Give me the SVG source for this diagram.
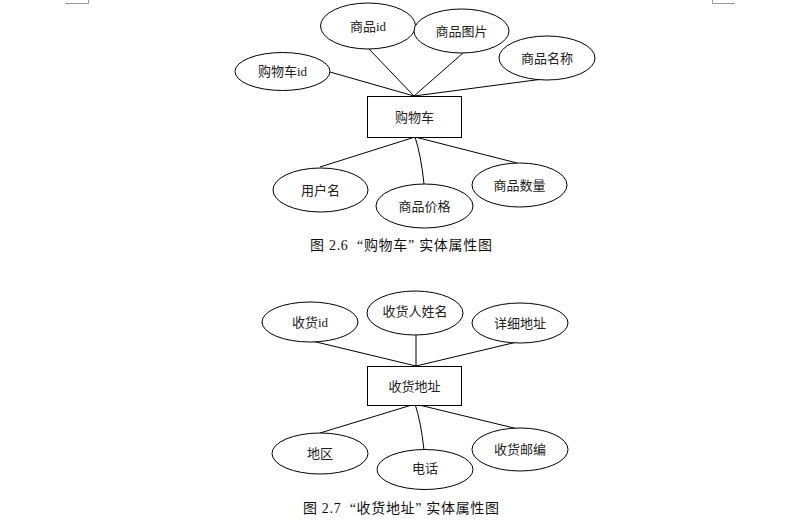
<svg xmlns="http://www.w3.org/2000/svg" width="786" height="523" viewBox="0 0 786 523">
<style>
.e{fill:#fff;stroke:#000;stroke-width:1}
.r{fill:#fff;stroke:#000;stroke-width:1}
.c{fill:none;stroke:#000;stroke-width:1}
.t{font-family:"Liberation Serif","Noto Sans CJK SC",serif;font-size:13px;fill:#222;text-anchor:middle;dominant-baseline:central}
.cap{font-family:"Liberation Serif","Noto Sans CJK SC",serif;font-size:14px;fill:#111;dominant-baseline:central;white-space:pre}
.m{fill:none;stroke:#999;stroke-width:1}
</style>
<rect width="786" height="523" fill="#fff"/>
<path class="m" d="M65,3.5H88.5V0M735,3.5H712.5V0"/>
<g id="connectors">
<path class="c" d="M330,72L414,96M369,49L414,96M463,53L414,96M543,79L414,96"/>
<path class="c" d="M415,137L320,167M415,137Q421,155 424,184M415,137L517,163"/>
<path class="c" d="M312,341L416,366M416,335V366M517,342L416,366"/>
<path class="c" d="M415,404L320,433M415,404Q421,422 424,450M415,404L518,429"/>
</g>
<g id="gwc">
<rect class="r" x="367.5" y="96.5" width="94" height="41"/>
<text class="t" x="414.5" y="117">购物车</text>
</g>
<g id="gwc_id"><ellipse class="e" cx="282.5" cy="71.5" rx="47.5" ry="19"/><text class="t" x="282.5" y="71.5">购物车id</text></g>
<g id="sp_id"><ellipse class="e" cx="368" cy="26" rx="47.5" ry="23"/><text class="t" x="368" y="26">商品id</text></g>
<g id="sp_tp"><ellipse class="e" cx="461.5" cy="31" rx="47.5" ry="22"/><text class="t" x="461.5" y="31">商品图片</text></g>
<g id="sp_mc"><ellipse class="e" cx="547" cy="58" rx="48" ry="22"/><text class="t" x="547" y="58">商品名称</text></g>
<g id="yhm"><ellipse class="e" cx="320.5" cy="190" rx="47.5" ry="22"/><text class="t" x="320.5" y="190">用户名</text></g>
<g id="sp_jg"><ellipse class="e" cx="424.5" cy="206" rx="48.5" ry="22"/><text class="t" x="424.5" y="206">商品价格</text></g>
<g id="sp_sl"><ellipse class="e" cx="519.5" cy="185" rx="47.5" ry="22"/><text class="t" x="519.5" y="185">商品数量</text></g>
<text class="cap" x="310" y="245" textLength="182" lengthAdjust="spacing" xml:space="preserve">图 2.6  “购物车” 实体属性图</text>

<g id="shdz">
<rect class="r" x="367.5" y="366.5" width="94" height="39"/>
<text class="t" x="414.5" y="386">收货地址</text>
</g>
<g id="sh_id"><ellipse class="e" cx="310" cy="322" rx="48" ry="20"/><text class="t" x="310" y="322">收货id</text></g>
<g id="shr"><ellipse class="e" cx="415" cy="313" rx="48" ry="22"/><text class="t" x="415" y="311">收货人姓名</text></g>
<g id="xxdz"><ellipse class="e" cx="520" cy="323" rx="48" ry="20"/><text class="t" x="520" y="323">详细地址</text></g>
<g id="dq"><ellipse class="e" cx="320" cy="453.5" rx="48" ry="20.5"/><text class="t" x="320" y="453">地区</text></g>
<g id="dh"><ellipse class="e" cx="425" cy="469.5" rx="48" ry="20"/><text class="t" x="425" y="468">电话</text></g>
<g id="shyb"><ellipse class="e" cx="520" cy="449.5" rx="48" ry="21.5"/><text class="t" x="520" y="449">收货邮编</text></g>
<text class="cap" x="303" y="508" textLength="196" lengthAdjust="spacing" xml:space="preserve">图 2.7  “收货地址” 实体属性图</text>
</svg>
